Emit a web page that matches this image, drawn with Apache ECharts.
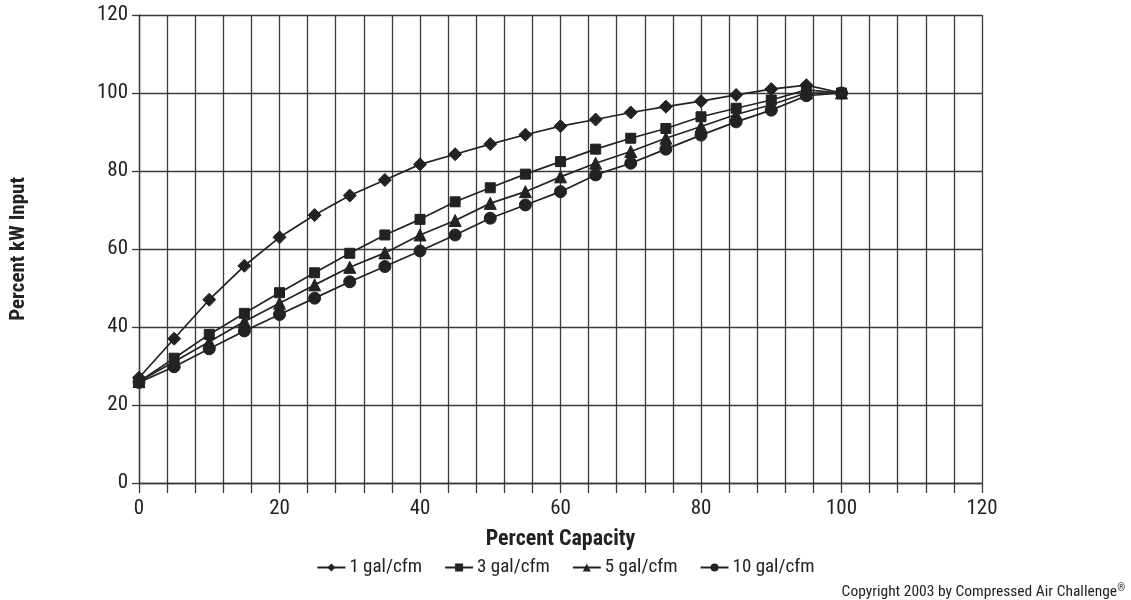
<!DOCTYPE html>
<html>
<head>
<meta charset="utf-8">
<script src="https://cdn.jsdelivr.net/npm/echarts@6/dist/echarts.min.js"></script>
<style>html,body{margin:0;padding:0;background:#fff}#c{width:1131px;height:600px}</style>
</head>
<body>
<div id="c"></div>
<script>
const capacity = [0,5,10,15,20,25,30,35,40,45,50,55,60,65,70,75,80,85,90,95,100];
const gal1  = [27,37,47,55.7,63,68.7,73.7,77.7,81.7,84.3,86.9,89.3,91.5,93.2,95,96.5,97.9,99.5,101,102,100];
const gal3  = [26,32,38.1,43.5,48.8,53.9,58.9,63.6,67.6,72.1,75.7,79.2,82.4,85.6,88.4,90.9,93.9,96.1,98.2,100.8,100];
const gal5  = [26,31.1,36.2,41.4,46.1,50.8,55.3,59,63.6,67.3,71.7,74.7,78.5,82,85,88.4,91.4,94.5,97,100,100];
const gal10 = [25.8,29.8,34.4,39,43.2,47.4,51.6,55.5,59.5,63.6,67.9,71.3,74.7,79,82,85.6,89.2,92.6,95.6,99.3,100];
const seriesNames = ['1 gal/cfm','3 gal/cfm','5 gal/cfm','10 gal/cfm'];
const xTicks = [0,20,40,60,80,100,120];
const yTicks = [0,20,40,60,80,100,120];

const FONT = "'Liberation Sans Narrow','Arial Narrow','Roboto Condensed','Liberation Sans',Arial,sans-serif";
const INK = '#222';
const GRID = '#3a3a3a';

function pairs(ys){ return capacity.map((x,i)=>[x, ys[i]]); }
const symbols = ['diamond','rect','triangle','circle'];
const sizes = [13,10,12,12];
const allData = [gal1, gal3, gal5, gal10];

const chart = echarts.init(document.getElementById('c'), null, {renderer:'canvas'});
chart.setOption({
  animation:false,
  backgroundColor:'#fff',
  textStyle:{fontFamily:FONT},
  grid:{left:138, right:149, top:15, bottom:117, containLabel:false},
  title:{
    text:'Copyright 2003 by Compressed Air Challenge{sup|®}',
    right:6, bottom:0, padding:0,
    textStyle:{fontFamily:FONT, fontSize:15.5, fontWeight:'normal', color:INK,
      rich:{sup:{fontFamily:FONT, fontSize:10, color:INK, verticalAlign:'top', padding:[0,0,7,0]}}}
  },
  legend:{
    bottom:18, left:'center',
    itemWidth:28, itemHeight:10, itemGap:22,
    textStyle:{fontFamily:FONT, fontSize:19, color:INK, padding:[0,0,0,-1]},
    data:seriesNames
  },
  xAxis:{
    type:'value', min:0, max:120, interval:20,
    name:'Percent Capacity', nameLocation:'middle', nameGap:45,
    nameTextStyle:{fontFamily:FONT, fontSize:22, fontWeight:'bold', color:INK},
    axisLine:{show:true, lineStyle:{color:GRID, width:1.3}},
    axisTick:{show:true, length:10, lineStyle:{color:GRID, width:1.3}},
    minorTick:{show:true, splitNumber:5, length:10, lineStyle:{color:GRID, width:1.3}},
    splitLine:{show:true, lineStyle:{color:GRID, width:1.3}},
    minorSplitLine:{show:true, lineStyle:{color:GRID, width:1.3}},
    axisLabel:{fontFamily:FONT, fontSize:21, color:INK, margin:15,
      formatter:(v)=> xTicks.includes(v) ? String(v) : ''}
  },
  yAxis:{
    type:'value', min:0, max:120, interval:20,
    name:'Percent kW Input', nameLocation:'middle', nameGap:110, nameRotate:90,
    nameTextStyle:{fontFamily:FONT, fontSize:21, fontWeight:'bold', color:INK},
    axisLine:{show:true, lineStyle:{color:GRID, width:1.3}},
    axisTick:{show:true, length:7, lineStyle:{color:GRID, width:1.3}},
    splitLine:{show:true, lineStyle:{color:GRID, width:1.3}},
    axisLabel:{fontFamily:FONT, fontSize:21, color:INK, margin:11,
      formatter:(v)=> yTicks.includes(v) ? String(v) : ''}
  },
  series: seriesNames.map((n,i)=>({
    name:n, type:'line', data:pairs(allData[i]),
    symbol:symbols[i], symbolSize:sizes[i], showSymbol:true,
    lineStyle:{color:INK, width:1.7},
    itemStyle:{color:INK, borderColor:INK},
    emphasis:{disabled:true}, z:3+i
  }))
});
</script>
</body>
</html>
